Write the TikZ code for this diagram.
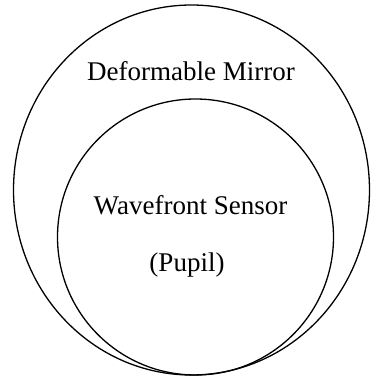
\documentclass[tikz,border=0pt]{standalone}
\usepackage{fontspec}
\setmainfont{Liberation Serif}
\begin{document}
\begin{tikzpicture}[x=1pt,y=1pt,
    ring/.style={draw,line width=1.3pt},
    txt/.style={font=\fontsize{27}{32}\selectfont,anchor=base,inner sep=0pt}]
  \useasboundingbox (0,0) rectangle (371,376);

  % the two apertures
  \draw[ring] (191.5,186) ellipse [x radius=178,y radius=185];
  \draw[ring] (195.5,139) circle [radius=138];

  \node[txt] (dm) at (191,295) {Deformable Mirror};
  \node[txt] (wfs) at (190.5,161) {Wavefront Sensor};
  \node[txt] (pup) at (187,104) {(Pupil)};
\end{tikzpicture}
\end{document}
